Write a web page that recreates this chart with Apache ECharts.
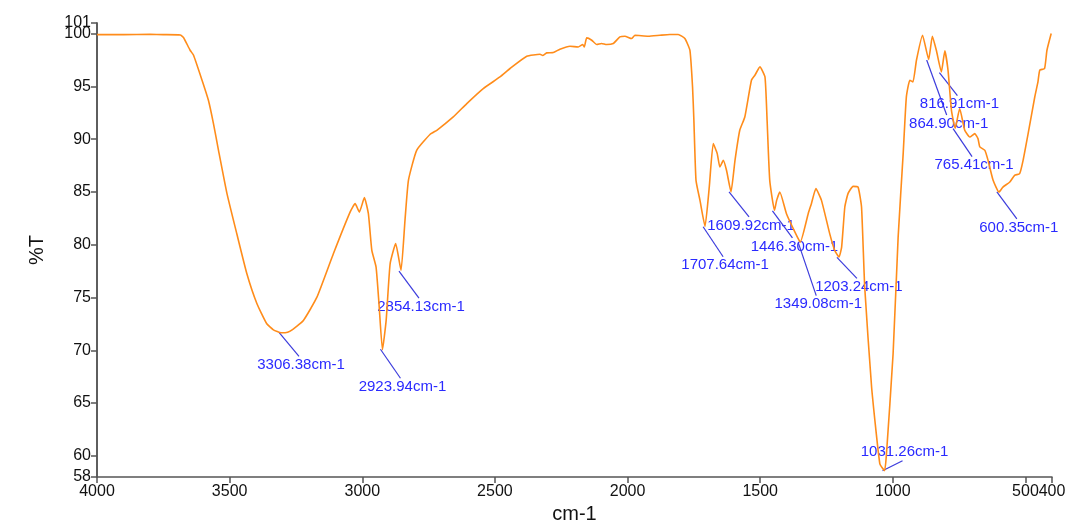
<!DOCTYPE html>
<html>
<head>
<meta charset="utf-8">
<script src="https://cdn.jsdelivr.net/npm/echarts@6/dist/echarts.min.js"></script>
<style>
  html, body { margin: 0; padding: 0; background: #fff; }
  #ir_graph { width: 1092px; height: 527px; }
</style>
</head>
<body>
<div id="ir_graph"></div>
<script>
// spectrum (cm-1, %T)
const wavenumbers = [
    4000, 3900, 3800, 3750, 3686, 3674, 3649, 3636, 3604, 3580, 3561, 3542, 3510, 3473, 3435, 3397, 3360, 3335,
    3306, 3291, 3272, 3222, 3171, 3109, 3046, 3027, 3011, 2992, 2977, 2964, 2948, 2937, 2924, 2910, 2895, 2874,
    2854, 2839, 2826, 2795, 2744, 2719, 2657, 2606, 2544, 2481, 2443, 2380, 2330, 2320, 2305, 2280, 2255,
    2217, 2186, 2169, 2163, 2154, 2135, 2116, 2098, 2079, 2054, 2029, 2010, 1985, 1972, 1922, 1878, 1841,
    1809, 1784, 1765, 1755, 1750, 1742, 1727, 1708, 1692, 1677, 1662, 1652, 1639, 1627, 1610, 1595, 1577,
    1558, 1533, 1520, 1501, 1482, 1474, 1464, 1446, 1438, 1426, 1401, 1369, 1349, 1319, 1307, 1290, 1269,
    1238, 1219, 1203, 1193, 1181, 1169, 1150, 1131, 1118, 1106, 1080, 1049, 1031, 1024, 999, 980, 961,
    949, 936, 924, 911, 888, 865, 851, 836, 817, 804, 792, 779, 765, 748, 729, 710, 691, 679, 672, 653,
    641, 622, 600, 585, 559, 541, 522, 509, 490, 465, 453, 446, 428, 419, 403
];
const transmittance = [
    99.9, 99.9, 99.92, 99.9, 99.87, 99.63, 98.42, 97.95, 95.58, 93.68, 91.47, 88.94, 84.84, 81.04, 77.25, 74.41, 72.51, 71.94,
    71.66, 71.66, 71.81, 72.83, 75.03, 79.15, 83.09, 83.89, 83.09, 84.46, 82.94, 79.46, 77.88, 74.41, 70.05, 72.83, 78.2, 80.1,
    77.57, 82.31, 86.1, 88.94, 90.46, 90.84, 92.1, 93.37, 94.79, 95.89, 96.69, 97.85, 98.04, 97.92, 98.17, 98.2, 98.52,
    98.8, 98.73, 98.96, 98.73, 99.59, 99.37, 98.96, 99.06, 98.96, 99.06, 99.68, 99.75, 99.53, 99.84, 99.75, 99.84, 99.91,
    99.91, 99.53, 98.42, 94.94, 91.8, 86.1, 84.2, 81.74, 85.46, 89.58, 88.63, 87.36, 87.99, 87.05, 85.0, 87.99, 90.84,
    92.1, 95.58, 96.05, 96.84, 95.89, 91.79, 86.1, 83.25, 84.2, 84.99, 82.94, 81.2, 80.25, 82.94, 83.89, 85.31, 84.2,
    81.05, 79.46, 78.83, 79.78, 83.57, 84.84, 85.53, 85.46, 83.57, 75.98, 66.5, 59.24, 58.61, 60.19, 69.67, 80.72, 88.63,
    94.0, 95.58, 95.42, 97.47, 99.84, 97.54, 99.75, 98.42, 96.36, 98.36, 96.53, 92.73, 91.03, 92.9, 90.84, 90.2, 90.52, 90.05, 89.26, 88.94,
    87.99, 86.1, 84.99, 85.46, 85.94, 86.57, 86.73, 87.99, 90.52, 93.99, 95.42, 96.53, 96.69, 98.42, 100.0
];

// picked peaks
const peakWavenumbers = [3306.38, 2923.94, 2854.13, 1707.64, 1609.92, 1446.30, 1349.08, 1203.24, 1031.26, 864.90, 816.91, 765.41, 600.35];
const peakTransmittance = [71.7, 70.1, 77.5, 81.7, 85.0, 83.2, 80.2, 78.8, 58.6, 97.5, 96.3, 91.0, 85.0];

const xTicks = [4000, 3500, 3000, 2500, 2000, 1500, 1000, 500, 400];
const yTicks = [58, 60, 65, 70, 75, 80, 85, 90, 95, 101];
const yTicksExtra = [100]; // too close to 101, drawn on an overlay axis

// leader line end, px offset from the peak (layout only)
const leaderOffsets = [
    [18, 24], [18, 29], [18, 27], [18, 30], [18, 25], [18, 27], [16, 53],
    [18, 21], [18, -10], [18, 55], [16, 23], [17, 28], [18, 27]
];

const FONT = "'Liberation Sans', Arial, sans-serif";

var irGraph = echarts.init(document.getElementById('ir_graph'));

const spectrum = wavenumbers.map((w, i) => [w, transmittance[i]]);
const peaks = peakWavenumbers.map((w, i) => [w, peakTransmittance[i]]);

function yAxisFor(ticks, main) {
    return {
        type: 'value',
        min: 58,
        max: 101,
        position: 'left',
        name: main ? '%T' : '',
        nameLocation: 'middle',
        nameGap: 50,
        nameRotate: 90,
        nameTextStyle: { fontFamily: FONT, fontSize: 20, color: '#111' },
        axisLine: { show: true, lineStyle: { color: '#555', width: 1.5 } },
        axisTick: { show: true, customValues: ticks, length: 6, lineStyle: { color: '#555', width: 1.5 } },
        axisLabel: {
            customValues: ticks,
            formatter: function (v) { return String(v); },
            showMinLabel: true,
            showMaxLabel: true,
            hideOverlap: false,
            fontFamily: FONT,
            fontSize: 16,
            color: '#111',
            margin: 6,
        },
        splitLine: { show: false },
    };
}

irGraph.setOption({
    animation: false,
    grid: {
        left: 97,
        right: 40,
        top: 23,
        bottom: 50,
        outerBoundsMode: 'none',
    },
    xAxis: {
        type: 'value',
        min: 400,
        max: 4000,
        inverse: true,
        name: 'cm-1',
        nameLocation: 'middle',
        nameGap: 27,
        nameTextStyle: { fontFamily: FONT, fontSize: 20, color: '#111' },
        axisLine: { lineStyle: { color: '#555', width: 1.5 } },
        axisTick: { customValues: xTicks, length: 6, lineStyle: { color: '#555', width: 1.5 } },
        axisLabel: {
            customValues: xTicks,
            formatter: function (v) { return String(v); },
            showMinLabel: true,
            showMaxLabel: true,
            hideOverlap: false,
            fontFamily: FONT,
            fontSize: 16,
            color: '#111',
            margin: 7,
        },
        splitLine: { show: false },
    },
    yAxis: [
        yAxisFor(yTicks, true),
        Object.assign(yAxisFor(yTicksExtra, false), { offset: 0 }),
    ],
    series: [
        {
            name: 'spectrum',
            type: 'line',
            data: spectrum,
            smooth: 0.15,
            showSymbol: false,
            lineStyle: { color: '#ff8c1a', width: 1.6 },
            itemStyle: { color: '#ff8c1a' },
        },
        {
            name: 'peaks',
            type: 'custom',
            data: peaks,
            clip: false,
            renderItem: function (params, api) {
                const p = api.coord([api.value(0), api.value(1)]);
                const off = leaderOffsets[params.dataIndex];
                const ex = p[0] + off[0];
                const ey = p[1] + off[1];
                const down = off[1] > 0;
                return {
                    type: 'group',
                    children: [
                        {
                            type: 'line',
                            shape: { x1: p[0] - 2, y1: p[1], x2: ex, y2: ey },
                            style: { stroke: '#3c3cdc', lineWidth: 1.2 },
                        },
                        {
                            type: 'text',
                            x: ex + 2,
                            y: down ? ey + 1 : ey - 1,
                            style: {
                                text: peakWavenumbers[params.dataIndex].toFixed(2) + 'cm-1',
                                fill: '#2a2aff',
                                font: '15px ' + FONT,
                                align: 'center',
                                verticalAlign: down ? 'top' : 'bottom',
                            },
                        },
                    ],
                };
            },
        },
    ],
});

window.addEventListener('resize', function () {
    irGraph.resize();
});
</script>
</body>
</html>
